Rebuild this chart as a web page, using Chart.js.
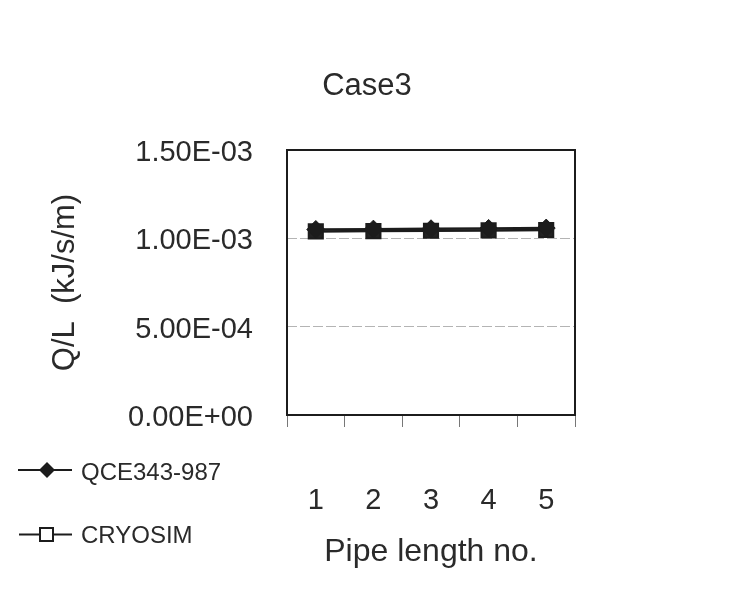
<!DOCTYPE html>
<html>
<head>
<meta charset="utf-8">
<script src="https://cdn.jsdelivr.net/npm/chart.js@4"></script>
<style>
  html, body { margin: 0; padding: 0; background: #fff; }
  #wrap { width: 732px; height: 616px; position: relative; }
</style>
</head>
<body>
<div id="wrap"><canvas id="chart" width="732" height="616"></canvas></div>
<script>
// Data
const pipeNos = ['1', '2', '3', '4', '5'];
const qceValues = [0.001050, 0.001052, 0.001054, 0.001056, 0.001058];
const cryosimValues = [0.001039, 0.001041, 0.001043, 0.001045, 0.001047];
const yTicks = [0, 0.0005, 0.001, 0.0015];

const FONT = '"Liberation Sans", Arial, sans-serif';
const INK = '#1c1c1c';
const TEXT = '#2a2a2a';

// 1.50E-03 style labels
function sciLabel(v) {
    if (v === 0) return '0.00E+00';
    let [m, e] = v.toExponential(2).toUpperCase().split('E');
    let n = parseInt(e, 10);
    let sign = n < 0 ? '-' : '+';
    let digits = String(Math.abs(n)).padStart(2, '0');
    return m + 'E' + sign + digits;
}

// frame around plot, title and the legend on the left
const framePlugin = {
    id: 'frame',
    afterDraw(chart) {
        const { ctx, chartArea: a } = chart;
        ctx.save();
        ctx.strokeStyle = INK;
        ctx.lineWidth = 2;
        ctx.strokeRect(a.left, a.top, a.right - a.left, a.bottom - a.top);

        ctx.fillStyle = TEXT;
        ctx.textBaseline = 'middle';
        ctx.textAlign = 'center';
        ctx.font = '31px ' + FONT;
        ctx.fillText('Case3', 367, 86);

        // legend
        ctx.lineWidth = 2;
        ctx.beginPath();
        ctx.moveTo(18, 470); ctx.lineTo(72, 470);
        ctx.moveTo(19, 534.5); ctx.lineTo(72, 534.5);
        ctx.stroke();
        // diamond
        ctx.fillStyle = INK;
        ctx.beginPath();
        ctx.moveTo(47, 462); ctx.lineTo(55, 470); ctx.lineTo(47, 478); ctx.lineTo(39, 470);
        ctx.closePath();
        ctx.fill();
        // open square
        ctx.fillStyle = '#fff';
        ctx.fillRect(40, 528, 13, 13);
        ctx.strokeRect(40, 528, 13, 13);

        ctx.fillStyle = TEXT;
        ctx.font = '24px ' + FONT;
        ctx.textAlign = 'left';
        ctx.fillText('QCE343-987', 81, 473);
        ctx.fillText('CRYOSIM', 81, 536);
        ctx.restore();
    }
};

new Chart(document.getElementById('chart'), {
    type: 'line',
    data: {
        labels: pipeNos,
        datasets: [
            {
                label: 'QCE343-987',
                data: qceValues,
                borderColor: INK,
                backgroundColor: INK,
                borderWidth: 2.5,
                pointStyle: 'rectRot',
                pointRadius: 9,
                pointBorderWidth: 1,
                tension: 0
            },
            {
                label: 'CRYOSIM',
                data: cryosimValues,
                borderColor: INK,
                backgroundColor: '#222',
                borderWidth: 2.5,
                pointStyle: 'rect',
                pointRadius: 10,
                pointBorderWidth: 2,
                tension: 0
            }
        ]
    },
    options: {
        responsive: false,
        animation: false,
        devicePixelRatio: 1,
        layout: { padding: { left: 0, right: 157, top: 150, bottom: 45 } },
        plugins: {
            legend: { display: false },
            tooltip: { enabled: false },
            title: { display: false }
        },
        scales: {
            x: {
                offset: true,
                grid: {
                    offset: true,
                    drawOnChartArea: false,
                    drawTicks: true,
                    tickLength: 12,
                    color: '#777'
                },
                border: { display: false },
                ticks: {
                    color: TEXT,
                    padding: 57,
                    maxRotation: 0,
                    font: { family: FONT, size: 29 }
                },
                title: {
                    display: true,
                    text: 'Pipe length no.',
                    color: TEXT,
                    font: { family: FONT, size: 32 },
                    padding: { top: 0, bottom: 0 }
                },
                afterFit(scale) { scale.height = 156; }
            },
            y: {
                min: 0,
                max: 0.0015,
                afterBuildTicks(scale) { scale.ticks = yTicks.map(v => ({ value: v })); },
                grid: {
                    drawTicks: false,
                    color: ctx => (ctx.tick && (ctx.tick.value === 0.0005 || ctx.tick.value === 0.001)) ? '#b4b4b4' : 'rgba(0,0,0,0)',
                    lineWidth: 1
                },
                border: { display: false, dash: [10, 3] },
                ticks: {
                    color: TEXT,
                    padding: 34,
                    labelOffset: 3,
                    font: { family: FONT, size: 29 },
                    callback: v => sciLabel(v)
                },
                title: {
                    display: true,
                    text: 'Q/L  (kJ/s/m)',
                    color: TEXT,
                    font: { family: FONT, size: 31 },
                    padding: { top: 47, bottom: 0 }
                },
                afterFit(scale) { scale.width = 287; }
            }
        }
    },
    plugins: [framePlugin]
});
</script>
</body>
</html>
